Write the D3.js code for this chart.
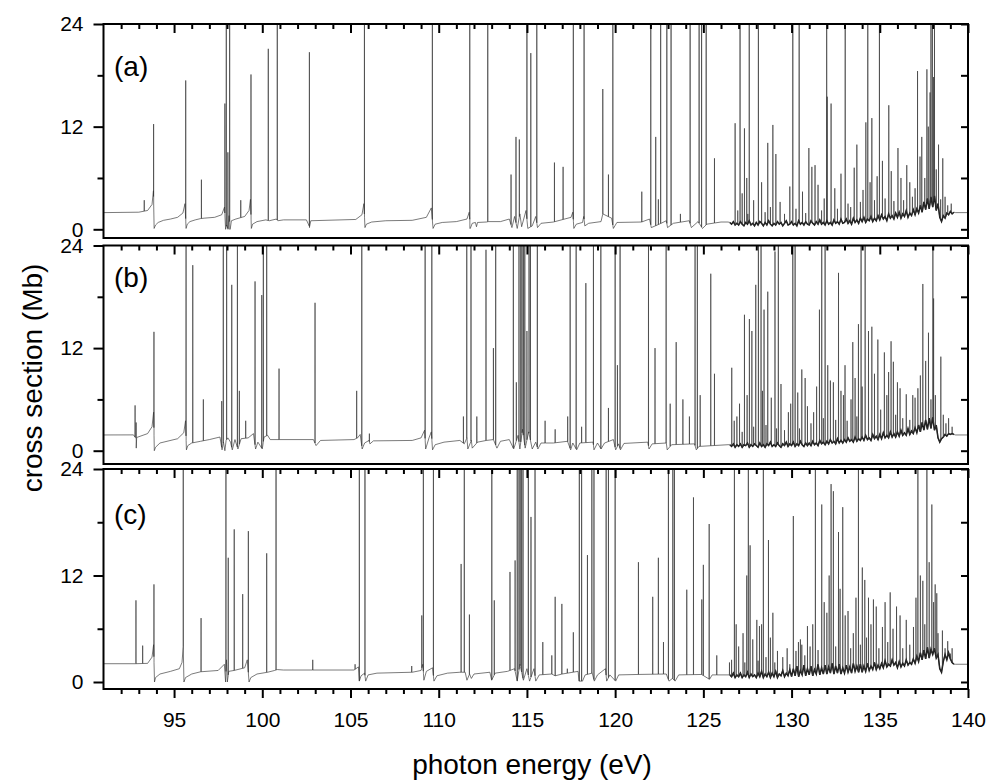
<!DOCTYPE html>
<html>
<head>
<meta charset="utf-8">
<script src="https://cdn.jsdelivr.net/npm/d3@7"></script>
<style>
  body { margin: 0; background: #fff; }
  text { font-family: "Liberation Sans", Arial, sans-serif; fill: #000; }
</style>
</head>
<body>
<div id="wrapper"></div>
<script>
// ---- data ----
const panelLabels = ["(a)", "(b)", "(c)"]
const xMajorTicks = [95, 100, 105, 110, 115, 120, 125, 130, 135, 140]
const yTickLabels = [0, 12, 24]
const yMinorTicks = [6, 18]

// smooth background + resonance wings, [eV, Mb]
const baseA = [[91,1.95],[93,2.0],[93.5,2.2],[93.75,2.9],[93.83,4.5],[93.87,0.1],[93.95,0.5],[94.1,0.8],[94.4,1.05],[94.8,1.2],[95.2,1.4],[95.5,1.9],[95.62,3.0],[95.68,0.1],[95.75,0.6],[95.9,0.9],[96.2,1.1],[96.5,1.25],[96.7,1.3],[97.3,1.4],[97.7,1.7],[97.86,2.6],[97.92,0],[97.98,0.5],[98.05,0.1],[98.12,1.6],[98.18,0],[98.25,1.0],[98.5,1.2],[99,1.5],[99.25,2.2],[99.33,3.5],[99.38,0.1],[99.45,0.6],[99.7,0.9],[100.2,1.1],[100.4,1.0],[100.8,1.2],[100.88,1.0],[101.2,1.1],[102.5,1.1],[102.68,0.3],[102.75,1.0],[105.3,1.15],[105.65,1.7],[105.76,3.0],[105.82,0.2],[105.9,0.6],[106.2,0.85],[107,1.0],[108.5,1.05],[109.3,1.4],[109.58,2.5],[109.68,0.1],[109.8,0.6],[110.2,0.8],[111,0.9],[111.6,1.2],[111.73,2.0],[111.79,0.1],[111.9,0.7],[112.08,0.8],[112.14,0.3],[112.2,0.8],[112.7,0.85],[112.82,0.9],[113.5,0.9],[114,1.2],[114.15,0.2],[114.3,1.5],[114.45,0.1],[114.6,1.8],[114.7,0.3],[114.95,2.2],[115.05,0.1],[115.3,0.4],[115.5,1.5],[115.6,0.2],[115.8,0.7],[116.5,0.85],[117.5,1.4],[117.6,2.0],[117.66,0.1],[117.8,0.6],[118.15,0.8],[118.22,1.5],[118.28,0.4],[118.5,0.7],[119.2,0.9],[119.3,1.8],[119.8,1.3],[119.9,0.1],[120.1,0.8],[121.5,0.85],[121.95,1.2],[122.05,0.2],[122.5,0.6],[122.9,1.0],[122.97,0.2],[123.3,0.7],[124.2,1.0],[124.32,0.2],[124.7,0.9],[124.95,0.1],[125.2,0.6],[126,0.85],[126.4,0.85],[139.3,1.95],[140,1.95]]
const baseB = [[91,1.84],[92.7,1.85],[92.82,1.5],[93.5,2.0],[93.75,2.8],[93.84,4.5],[93.88,0],[93.95,0.4],[94.2,0.9],[94.6,1.1],[95.2,1.4],[95.55,2.1],[95.65,3.5],[95.7,0.1],[95.78,0.6],[96,0.9],[96.5,1.1],[97,1.3],[97.6,1.6],[97.72,0.1],[97.8,1.0],[97.88,0],[97.95,1.2],[98.05,1.5],[98.2,1.0],[98.3,0.1],[98.45,1.3],[98.62,0.2],[98.8,1.4],[99.2,1.5],[99.5,2.0],[99.62,0.2],[99.75,1.0],[100,0.2],[100.1,1.6],[100.3,1.8],[100.45,1.3],[101,1.3],[102.9,1.3],[103.05,0.6],[103.3,1.2],[105.2,1.3],[105.4,1.5],[105.55,1.9],[105.66,0.2],[105.8,0.9],[106.05,1.2],[106.1,0.8],[106.3,1.15],[108.5,1.2],[109,1.5],[109.2,2.4],[109.26,0.2],[109.45,1.5],[109.58,2.2],[109.65,0.1],[109.8,0.7],[110.3,1.0],[111.2,1.2],[111.45,0.8],[111.6,1.5],[111.65,0.2],[111.85,1.2],[111.9,0.3],[112.2,1.0],[112.7,1.2],[113.1,1.3],[113.3,0.3],[113.5,1.1],[114,1.3],[114.25,0.2],[114.5,1.8],[114.6,0.2],[114.75,2.5],[114.9,0.3],[115.1,2.2],[115.3,0.2],[115.5,1.0],[115.62,0.2],[115.8,0.9],[116.5,0.9],[117.3,1.1],[117.48,0.1],[117.6,0.9],[117.82,0.1],[118,0.9],[118.75,1.0],[118.8,0.1],[119,0.9],[119.2,0.2],[119.4,0.9],[119.9,1.3],[120.03,0.1],[120.2,0.8],[120.3,0.1],[120.5,0.85],[121.85,1.0],[121.92,0.2],[122.1,0.8],[122.9,0.9],[122.95,0.1],[123.2,0.7],[124.5,0.8],[124.6,0.1],[124.75,0.5],[126.4,0.7],[139.3,1.84],[140,1.84]]
const baseC = [[91,2.06],[92.8,2.06],[93.5,2.1],[93.75,2.8],[93.84,4.2],[93.89,0],[93.95,0.5],[94.2,0.9],[94.8,1.2],[95.3,1.5],[95.45,2.2],[95.52,4],[95.56,0],[95.65,0.5],[96,0.9],[96.5,1.15],[97.5,1.3],[97.85,2.0],[97.92,0],[97.97,2.5],[98.02,0],[98.1,1.2],[98.4,1.3],[99,1.6],[99.15,2.5],[99.25,0],[99.35,0.5],[99.7,0.9],[100.3,1.1],[100.7,1.3],[100.85,1.4],[101.2,1.35],[105.2,1.35],[105.45,1.7],[105.5,0.1],[105.6,0.7],[105.8,1.0],[105.86,0.1],[106,0.8],[106.5,1.0],[108.5,1.1],[109,1.3],[109.1,2.0],[109.16,0.2],[109.3,1.2],[109.65,1.6],[109.73,0.1],[109.9,0.7],[110.5,1.0],[111.2,1.1],[111.5,1.1],[111.6,0.2],[111.75,0.9],[111.85,0.4],[112,0.9],[112.9,1.1],[113,0.2],[113.2,1.0],[113.9,1.2],[114.3,1.5],[114.45,0.1],[114.6,2.0],[114.8,0.2],[115,1.5],[115.15,0.1],[115.4,1.5],[115.5,0.1],[115.7,0.8],[116.4,0.9],[116.6,0.7],[117,0.9],[117.9,1.2],[117.95,0.1],[118.15,0.1],[118.3,0.8],[118.7,1.0],[118.82,0.1],[119,0.8],[119.45,1.5],[119.52,0.1],[119.7,0.8],[120.03,0.1],[120.2,0.8],[121.3,0.85],[122.9,0.9],[123.05,0.1],[123.25,0.4],[123.4,0.1],[123.6,0.8],[124.9,0.85],[125.35,0.3],[125.5,0.8],[126.4,0.8],[139.3,2.0],[140,2.0]]

// noisy background 126.5 - 139.2 eV, one sample per 0.1 eV (rows = 1 eV)
const traceStart = 126.5
const traceStep = 0.1
const traceA = [
  0.8,0.6,0.9,0.5,0.7,
  0.5,0.9,0.6,0.4,0.8,0.6,1.0,0.5,0.7,0.4,
  0.8,0.5,0.9,0.7,0.4,0.8,0.5,1.0,0.6,0.4,
  0.7,0.5,0.9,0.6,0.8,0.4,0.7,1.0,0.5,0.6,
  0.9,0.5,0.7,0.4,1.0,0.6,0.8,0.5,0.9,0.6,
  0.5,1.0,0.7,0.5,0.9,0.6,1.1,0.6,0.8,0.5,
  1.0,0.6,0.8,0.5,1.1,0.7,0.9,0.6,1.2,0.7,
  0.8,1.2,0.7,1.0,0.6,1.3,0.8,1.1,0.7,1.3,
  0.9,1.4,0.8,1.2,1.0,1.5,0.9,1.3,1.0,1.6,
  1.1,1.7,1.2,1.5,1.0,1.8,1.3,1.6,1.2,1.9,
  1.4,2.0,1.3,1.8,1.5,2.2,1.4,1.9,1.6,2.3,
  1.7,2.4,1.9,2.8,2.0,3.2,2.3,3.6,2.4,3.8,
  2.6,3.9,2.2,3.0,1.4,0.9,1.6,1.3,1.9,1.7,
  2.1,1.8,2.0]
const traceB = [
  0.7,0.5,0.8,0.4,0.7,
  0.5,0.8,0.4,0.7,0.6,0.9,0.4,0.7,0.5,0.8,
  0.6,0.4,0.9,0.5,0.7,0.4,0.8,0.6,1.0,0.5,
  0.7,0.5,0.9,0.6,0.4,0.8,0.6,1.0,0.5,0.8,
  0.6,1.0,0.5,0.8,0.6,1.1,0.7,0.5,0.9,0.6,
  0.9,0.6,1.1,0.7,0.9,0.6,1.2,0.8,1.0,0.7,
  1.1,0.8,1.3,0.9,1.1,0.8,1.4,0.9,1.2,0.9,
  1.3,1.0,1.5,1.1,1.3,1.0,1.6,1.1,1.4,1.2,
  1.6,1.2,1.8,1.3,1.5,1.2,1.9,1.4,1.7,1.3,
  1.9,1.4,2.1,1.5,1.8,1.5,2.2,1.6,2.0,1.6,
  2.2,1.7,2.4,1.8,2.1,1.8,2.6,1.9,2.3,2.0,
  2.7,2.1,3.0,2.2,3.3,2.4,3.6,2.5,3.8,2.6,
  3.9,2.4,3.0,1.5,1.0,1.4,1.6,1.9,1.7,2.0,
  1.9,2.0,1.9]
const traceC = [
  0.8,0.6,1.0,0.5,0.8,
  0.6,1.0,0.5,0.8,0.6,1.1,0.5,0.9,0.6,0.8,
  0.5,1.0,0.6,1.2,0.5,0.9,0.6,1.1,0.5,1.0,
  0.6,1.2,0.5,0.9,0.7,1.3,0.6,1.0,0.7,1.4,
  0.6,1.5,0.7,1.8,0.6,1.3,0.8,1.9,0.7,1.5,
  0.8,1.8,0.7,1.4,0.9,2.0,0.8,1.6,0.9,1.9,
  0.9,1.7,1.0,2.1,0.9,1.8,1.0,2.0,0.9,1.6,
  1.0,1.9,1.1,1.7,1.0,2.1,1.2,1.8,1.1,2.0,
  1.1,1.8,1.2,2.1,1.3,1.8,1.4,2.2,1.4,1.9,
  1.5,2.1,1.6,2.4,1.7,2.0,1.8,2.5,1.9,2.2,
  1.6,2.3,1.7,2.1,1.8,2.5,1.9,2.2,2.0,2.6,
  2.1,2.9,2.3,3.3,2.5,3.6,2.6,3.9,2.7,3.7,
  3.1,3.8,2.7,3.1,1.5,1.1,2.3,3.1,2.5,3.3,
  2.6,2.2,2.0]

// resonances [eV, peak Mb, dip Mb (optional)]; 30 = off scale
const spikesA = [[93.31,3.4],[93.84,12.3],[95.66,17.4],[96.55,5.8],[97.88,14.7],[97.96,30],[98.05,9,0],[98.15,30,0],[98.78,3.4],[99.36,18.1],[100.34,21.1],[100.85,30],[102.67,20.7,0.2],[105.79,30],[109.64,30],[111.76,30,0.1],[112.78,30],[114.1,6.4],[114.38,10.8],[114.57,10.5],[115.0,30],[115.22,20.6],[115.56,30],[116.56,7.8],[117.05,7.3],[117.63,30],[118.24,30],[119.3,16.4],[119.62,6.4],[119.87,30],[121.51,4.4],[122.02,30],[122.3,10.8],[122.45,3.5],[122.58,30],[122.93,30],[123.17,30],[123.7,1.8],[124.25,30],[124.76,30],[124.9,30],[125.16,30],[125.63,8.3],[126.8,12.4],[127.08,30],[127.33,11.8],[127.46,6],[127.6,30],[128.12,30],[128.65,10.1],[128.94,12.2],[129.11,8.8],[130.07,30],[130.43,30],[130.98,9.5],[131.15,7.3],[131.33,7.5],[131.99,30],[132.02,15.5],[132.24,14.7],[133.04,30],[133.7,9.9],[134.21,12.5],[134.32,30],[134.55,13],[134.98,30],[135.51,14.5],[136.03,9.5],[136.53,7.5],[137.14,18.5],[137.38,10.8],[137.67,18.7],[137.85,16],[137.9,30],[137.98,30],[138.05,17.8],[138.1,30],[138.33,9.9],[138.57,8.3]]
const spikesB = [[92.79,5.3],[92.85,3.3,0.3],[93.86,13.9],[95.68,30],[96.06,21.7],[96.66,6.0],[97.7,5.8],[97.79,30],[97.98,30],[98.27,19.4],[98.59,30],[98.7,7],[99.06,3.5],[99.59,19.8],[99.97,18.2],[100.06,30],[100.25,30],[100.95,9.6],[102.99,17.3],[105.35,7.0],[105.64,30],[106.07,2.0],[109.23,30],[109.61,30],[111.4,4.0],[111.59,30],[111.83,30],[112.16,4],[112.68,23.5],[113.1,12],[113.23,30],[114.23,30],[114.4,8],[114.55,30],[114.65,30],[114.72,30],[114.8,30],[114.88,30],[115.0,14],[115.12,30],[115.2,30],[115.59,30],[116.03,3.5],[116.6,2.5],[117.31,4],[117.45,30],[117.79,30],[118.1,2.8],[118.34,19.6],[118.77,30],[119.19,30],[119.62,5],[120.0,30],[120.13,10],[120.28,30],[121.89,30],[122.26,12],[122.89,30],[123.12,5.5],[123.46,12.7],[123.84,6],[124.21,4],[124.53,30],[124.66,30],[124.82,6.5],[125.42,20.7],[125.63,9],[126.61,9.7],[126.9,4],[127.33,15.9],[127.61,15.4],[127.75,14],[127.97,19.4],[128.12,30],[128.27,30],[128.44,16.5],[128.65,18.6],[129.06,23.3],[129.25,30],[129.82,4.5],[130.07,30],[130.2,30],[130.58,9.5],[130.77,8.5],[131.58,16.5],[131.71,30],[131.9,30],[132.05,10],[132.37,8],[132.66,20.8],[132.94,6.5],[133.03,10],[133.37,6],[133.47,12.7],[133.79,14.8],[133.94,30],[134.17,30],[134.36,14],[134.55,14.5],[134.89,13],[135.26,11.5],[135.64,12.8],[135.77,10.4],[136.15,7.3],[136.87,6.5],[137.16,7.3],[137.44,19.5],[137.76,13.8],[138.01,30],[138.05,17.8],[138.46,11]]
const spikesC = [[92.84,9.2],[93.22,4.1],[93.86,11.0],[95.52,30],[96.53,7.2],[97.94,30],[98.07,14],[98.41,17.2],[98.89,9.9],[99.21,17],[100.25,14.5],[100.78,30],[102.86,2.5],[105.26,2.0],[105.5,30],[105.82,30],[108.47,1.8],[109.04,7.5],[109.13,30],[109.7,30],[111.27,13.3],[111.45,30],[111.74,7.6],[113.01,30],[113.15,9.2],[114.04,12.4],[114.33,13.7],[114.45,30],[114.55,30],[114.62,30],[114.7,30],[114.78,30],[115.08,30],[115.23,18.6],[115.46,30],[115.9,4.5],[116.41,3.0],[116.6,9.6],[116.98,8.8],[117.29,1.5],[117.63,5.6],[117.97,30],[118.1,30],[118.43,14.3],[118.68,30],[118.8,30],[119.49,30],[119.62,30],[120.0,30],[121.32,13.5],[122.13,9.6],[122.45,14],[122.74,4.5],[123.02,30],[123.27,30],[123.36,30],[124.06,10.4],[124.44,20.8],[124.91,9.3],[125.0,13.2],[125.33,17.8],[125.76,3],[126.48,2.2],[126.76,30],[126.86,6.5],[127.46,12],[127.55,30],[127.65,15.4],[128.03,7],[128.18,6.3],[128.4,30],[128.69,16],[128.94,7.8],[129.2,3.5],[130.1,18.7],[130.39,4.5],[130.58,4.2],[130.9,6.3],[131.35,30],[131.71,20],[132.0,7.8],[132.13,12],[132.24,22.3],[132.37,21.5],[132.66,16.9],[132.9,19.7],[133.04,7.5],[133.79,30],[134.01,12.9],[134.36,9.5],[134.64,9.3],[135.59,10.1],[136.15,7.5],[136.91,6.2],[137.16,30],[137.44,11.4],[137.67,30],[137.95,20],[138.14,11],[138.23,10]]

// smaller resonances in the dense region [eV, peak Mb]
const forestA = [[126.95,2.2],[127.2,4.2],[127.52,1.8],[127.85,3.4],[128.3,5.5],[128.5,2.0],[128.8,2.6],[129.35,3.2],[129.6,1.8],[129.9,5.0],[130.25,2.4],[130.62,4.4],[130.8,1.9],[131.5,5.2],[131.7,2.2],[131.85,3.6],[132.45,4.8],[132.6,2.4],[132.8,6.5],[133.2,3.0],[133.35,2.6],[133.55,7.2],[133.9,3.2],[134.05,4.6],[134.45,5.5],[134.7,3.4],[134.85,6.2],[135.15,8.0],[135.3,3.6],[135.65,6.8],[135.8,3.3],[136.2,6.0],[136.35,3.4],[136.7,5.5],[136.85,3.8],[137.0,4.8],[137.28,8.5],[137.55,6.0],[137.75,12],[138.2,7.0],[138.45,3.5],[138.7,3.8],[138.85,2.8],[139.05,3.0]]
const forestB = [[126.75,3.5],[127.05,5.5],[127.2,2.2],[127.48,6.5],[127.85,2.8],[128.35,7.0],[128.55,3.0],[128.85,6.2],[129.15,2.6],[129.4,7.8],[129.6,2.4],[129.95,5.5],[130.35,6.8],[130.45,2.6],[130.9,5.2],[131.1,3.2],[131.25,4.5],[131.42,7.5],[131.8,3.8],[132.2,8.2],[132.5,3.6],[132.8,7.0],[133.15,3.5],[133.6,8.5],[133.7,4.0],[134.0,7.5],[134.7,9.0],[135.05,4.8],[135.4,6.5],[135.5,9.2],[135.9,4.2],[136.0,8.0],[136.3,3.8],[136.5,6.6],[136.7,3.6],[137.0,6.2],[137.3,8.8],[137.6,10.5],[137.9,6.0],[138.15,6.5],[138.6,4.2],[138.75,3.2],[138.9,3.8],[139.1,2.8]]
const forestC = [[126.6,2.5],[127.0,4.0],[127.25,5.5],[127.35,2.2],[127.8,4.8],[128.1,2.4],[128.3,6.5],[128.55,2.8],[128.8,5.0],[129.05,2.2],[129.5,2.8],[129.75,3.8],[129.9,2.0],[130.25,3.5],[130.5,4.8],[130.75,3.0],[131.05,4.0],[131.2,6.5],[131.5,3.6],[131.85,9.0],[132.5,4.0],[132.75,10.5],[133.2,8.0],[133.35,3.8],[133.5,5.5],[133.65,9.5],[133.9,4.2],[134.15,11.5],[134.25,5.0],[134.5,6.5],[134.8,8.5],[134.95,3.8],[135.15,6.2],[135.3,9.0],[135.45,4.5],[135.75,6.0],[135.95,8.5],[136.3,3.8],[136.5,7.0],[136.7,4.2],[137.05,9.5],[137.3,12.0],[137.55,6.5],[137.8,13.5],[138.05,9.0],[138.3,5.5],[138.55,5.8],[138.7,3.8],[138.85,4.6],[139.0,3.2],[139.1,3.8]]

const panels = [
  { label: panelLabels[0], base: baseA, trace: traceA, spikes: spikesA.concat(forestA) },
  { label: panelLabels[1], base: baseB, trace: traceB, spikes: spikesB.concat(forestB) },
  { label: panelLabels[2], base: baseC, trace: traceC, spikes: spikesC.concat(forestC) },
]

// ---- layout ----
const width = 992
const height = 782
const left = 103.5
const right = 968
// pixel rows of each panel: value 24, value 0, frame bottom, label baseline
const rows = [
  { top: 24, zero: 229.3, bottom: 238, labelY: 76 },
  { top: 245.5, zero: 450.7, bottom: 464, labelY: 287 },
  { top: 469, zero: 682, bottom: 689, labelY: 524 },
]

const svg = d3.select("#wrapper").append("svg")
  .attr("width", width).attr("height", height)

const x = d3.scaleLinear().domain([91, 140]).range([left, right])
const xMinor = d3.range(92, 140).filter(v => v % 5 !== 0)

const line = d3.line().x(d => x(d[0]))

panels.forEach((p, i) => {
  const r = rows[i]
  const y = d3.scaleLinear().domain([0, 24]).range([r.zero, r.top])
  const g = svg.append("g")

  g.append("clipPath").attr("id", "clip" + i)
    .append("rect")
    .attr("x", left).attr("y", r.top)
    .attr("width", right - left).attr("height", r.bottom - r.top)

  // background trace
  const tracePts = p.trace.map((v, k) => [traceStart + k * traceStep, v])
  const basePts = p.base.concat(tracePts).sort((a, b) => a[0] - b[0])
  const baseAt = d3.scaleLinear()
    .domain(basePts.map(d => d[0]))
    .range(basePts.map(d => d[1]))
    .clamp(true)

  const pts = basePts.slice()
  p.spikes.forEach(([e, peak, dip]) => {
    pts.push([e - 0.004, baseAt(e - 0.004)], [e, peak])
    if (dip != null) {
      pts.push([e + 0.006, dip], [e + 0.03, baseAt(e + 0.03)])
    } else {
      pts.push([e + 0.004, baseAt(e + 0.004)])
    }
  })
  pts.sort((a, b) => a[0] - b[0])

  // the dense noisy stretch prints as a dark band
  g.append("path")
    .datum(tracePts)
    .attr("clip-path", `url(#clip${i})`)
    .attr("fill", "none")
    .attr("stroke", "#111")
    .attr("stroke-width", 1.5)
    .attr("d", line.y(d => y(d[1])))

  g.append("path")
    .datum(pts)
    .attr("clip-path", `url(#clip${i})`)
    .attr("fill", "none")
    .attr("stroke", "#333")
    .attr("stroke-width", 0.65)
    .attr("d", line.y(d => y(d[1])))

  // frame
  g.append("rect")
    .attr("x", left).attr("y", r.top)
    .attr("width", right - left).attr("height", r.bottom - r.top)
    .attr("fill", "none").attr("stroke", "#000").attr("stroke-width", 2)

  const styleAxis = sel => {
    sel.select(".domain").remove()
    sel.selectAll(".tick line").attr("stroke", "#000").attr("stroke-width", 2)
    sel.selectAll(".tick text")
      .style("font-family", '"Liberation Sans", Arial, sans-serif')
      .style("font-size", "21px")
      .attr("fill", "#000")
  }

  // left: outward
  g.append("g").attr("transform", `translate(${left},0)`)
    .call(d3.axisLeft(y).tickValues(yTickLabels).tickSize(10).tickPadding(10))
    .call(styleAxis)
  g.append("g").attr("transform", `translate(${left},0)`)
    .call(d3.axisLeft(y).tickValues(yMinorTicks).tickSize(6).tickFormat(""))
    .call(styleAxis)
  // right: inward
  g.append("g").attr("transform", `translate(${right},0)`)
    .call(d3.axisLeft(y).tickValues(yTickLabels.concat(yMinorTicks)).tickSize(7).tickFormat(""))
    .call(styleAxis)
  // top: inward
  g.append("g").attr("transform", `translate(0,${r.top})`)
    .call(d3.axisBottom(x).tickValues(xMajorTicks).tickSize(9).tickFormat(""))
    .call(styleAxis)
  g.append("g").attr("transform", `translate(0,${r.top})`)
    .call(d3.axisBottom(x).tickValues(xMinor).tickSize(5).tickFormat(""))
    .call(styleAxis)

  if (i === panels.length - 1) {
    g.append("g").attr("transform", `translate(0,${r.bottom})`)
      .call(d3.axisBottom(x).tickValues(xMajorTicks).tickSize(9).tickPadding(14))
      .call(styleAxis)
    g.append("g").attr("transform", `translate(0,${r.bottom})`)
      .call(d3.axisBottom(x).tickValues(xMinor).tickSize(5).tickFormat(""))
      .call(styleAxis)
  }

  g.append("text")
    .attr("x", 114).attr("y", r.labelY)
    .style("font-size", "28px")
    .text(p.label)
})

// axis titles
svg.append("text")
  .attr("x", 532).attr("y", 774)
  .attr("text-anchor", "middle")
  .style("font-size", "28px")
  .text("photon energy (eV)")

svg.append("text")
  .attr("transform", "translate(42,378) rotate(-90)")
  .attr("text-anchor", "middle")
  .style("font-size", "28px")
  .text("cross section (Mb)")
</script>
</body>
</html>
